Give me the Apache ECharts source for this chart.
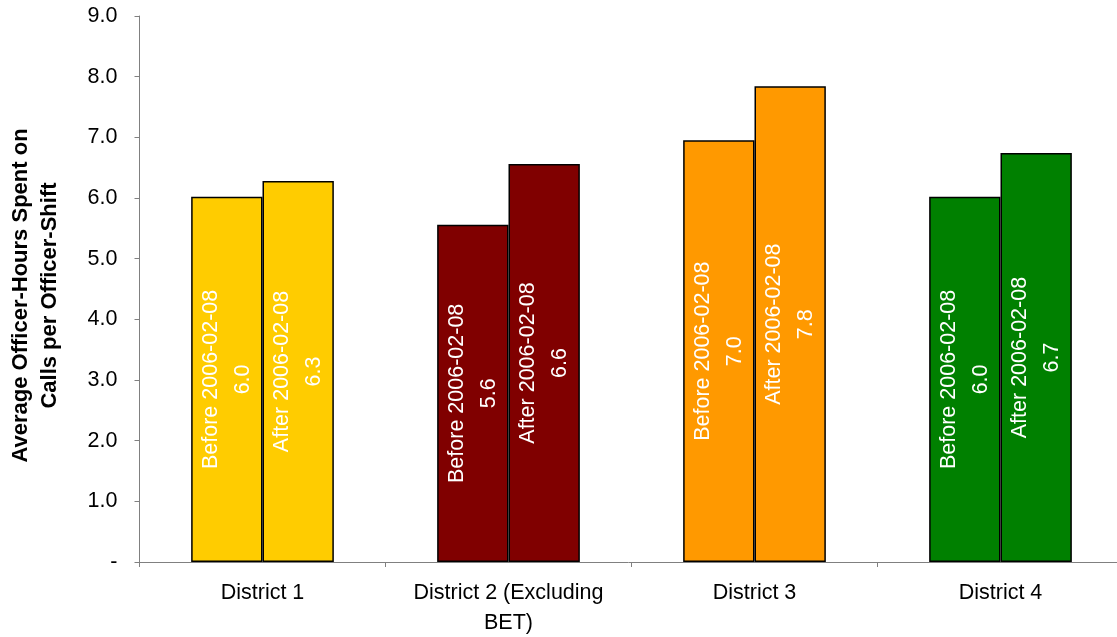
<!DOCTYPE html>
<html><head><meta charset="utf-8">
<script src="https://cdn.jsdelivr.net/npm/echarts@6/dist/echarts.min.js"></script>
<style>html,body{margin:0;padding:0;background:#fff}#c{width:1117px;height:637px}</style>
</head><body><div id="c"></div>
<script>
const categories = ['District 1', 'District 2 (Excluding\nBET)', 'District 3', 'District 4'];
const seriesNames = ['Before 2006-02-08', 'After 2006-02-08'];
const beforeValues = [6.02, 5.56, 6.95, 6.02];
const afterValues = [6.28, 6.56, 7.84, 6.74];
const districtColors = ['#FFCC00', '#800000', '#FF9900', '#008000'];
const yTicks = ['-', '1.0', '2.0', '3.0', '4.0', '5.0', '6.0', '7.0', '8.0', '9.0'];

const chart = echarts.init(document.getElementById('c'));
const font = 'Liberation Sans, Arial, sans-serif';
function mkSeries(name, vals) {
  return {
    name: name, type: 'bar', barGap: '0%', barCategoryGap: '42%',
    data: vals.map((v, i) => ({ value: v, itemStyle: { color: districtColors[i] } })),
    itemStyle: { borderColor: '#000', borderWidth: 1.5 },
    label: {
      show: true, position: 'inside', rotate: 90, color: '#fff',
      fontFamily: font, fontSize: 21.5, lineHeight: 32, align: 'center', verticalAlign: 'middle',
      formatter: p => name + '\n' + p.value.toFixed(1)
    }
  };
}
chart.setOption({
  animation: false,
  grid: { left: 139.5, right: -6.5, top: 16, bottom: 75, containLabel: false, outerBoundsMode: 'none' },
  xAxis: {
    type: 'category', data: categories,
    axisLine: { lineStyle: { color: '#808080', width: 1 } },
    axisTick: { show: true, interval: 0, length: 5, lineStyle: { color: '#808080' } },
    axisLabel: { interval: 0, color: '#000', fontFamily: font, fontSize: 21.5, lineHeight: 30, margin: 16 }
  },
  yAxis: {
    type: 'value', min: 0, max: 9, interval: 1,
    name: 'Average Officer-Hours Spent on\nCalls per Officer-Shift',
    nameLocation: 'middle', nameGap: 75.5,
    nameTextStyle: { color: '#000', fontFamily: font, fontSize: 22, fontWeight: 'bold', lineHeight: 29, padding: [0, 13, 0, 0] },
    axisLine: { show: true, lineStyle: { color: '#808080', width: 1 } },
    axisTick: { show: true, length: 5, lineStyle: { color: '#808080' } },
    splitLine: { show: false },
    axisLabel: { color: '#000', fontFamily: font, fontSize: 21.5, margin: 22,
      formatter: v => yTicks[Math.round(v)] }
  },
  series: [mkSeries(seriesNames[0], beforeValues), mkSeries(seriesNames[1], afterValues)]
});
</script></body></html>
